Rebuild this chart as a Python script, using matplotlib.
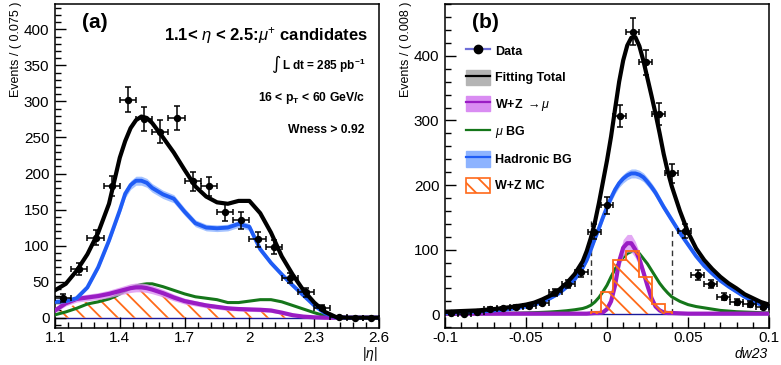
import numpy as np
import matplotlib
matplotlib.use("Agg")
import matplotlib.pyplot as plt
from matplotlib.patches import Patch
from matplotlib.lines import Line2D
from matplotlib.ticker import FixedLocator, MultipleLocator

plt.rcParams['font.family'] = ['Liberation Sans', 'DejaVu Sans']
plt.rcParams['mathtext.fontset'] = 'custom'
plt.rcParams['mathtext.rm'] = 'Liberation Sans'
plt.rcParams['mathtext.it'] = 'Liberation Sans:italic'
plt.rcParams['mathtext.bf'] = 'Liberation Sans:bold'
plt.rcParams['hatch.linewidth'] = 1.3

# ---- panel (a): |eta| distribution ----
eta_bins = np.array([1.1375, 1.2125, 1.2875, 1.3625, 1.4375, 1.5125, 1.5875, 1.6625,
                     1.7375, 1.8125, 1.8875, 1.9625, 2.0375, 2.1125, 2.1875, 2.2625,
                     2.3375, 2.4125, 2.4875, 2.5625])
eta_counts = np.array([27, 68, 111, 183, 302, 275, 258, 277, 189, 182, 146, 135,
                       109, 98, 55, 35, 14, 1, 0, 0])

eta_grid = np.array([1.10, 1.15, 1.20, 1.25, 1.30, 1.35, 1.375, 1.40, 1.425, 1.45,
                     1.475, 1.50, 1.525, 1.55, 1.60, 1.65, 1.70, 1.75, 1.80, 1.85,
                     1.90, 1.95, 2.00, 2.05, 2.10, 2.15, 2.20, 2.25, 2.30, 2.35,
                     2.40, 2.45, 2.50, 2.55, 2.60])
eta_total = np.array([38, 47, 65, 88, 118, 158, 190, 222, 245, 263,
                      274, 279, 277, 270, 250, 229, 205, 182, 168, 160,
                      158, 162, 162, 145, 118, 85, 60, 38, 21, 8,
                      1, 0, 0, 0, 0])
eta_hadronic = np.array([22, 23, 27, 42, 70, 107, 128, 149, 172, 184,
                         190, 190, 187, 180, 171, 165, 147, 131, 125, 124,
                         125, 130, 126, 95, 76, 60, 45, 31, 17, 6,
                         0.5, 0, 0, 0, 0])
eta_mubg = np.array([4, 8, 13, 19, 22, 26, 29, 33, 37, 41,
                     44, 46, 47, 47, 43, 38, 33, 29, 27, 25,
                     21, 21, 23, 25, 25, 22, 17, 12, 7, 2.5,
                     0.5, 0, 0, 0, 0])
eta_wz = np.array([10, 20, 26, 28, 30, 33, 35, 37, 39, 41,
                   42, 42, 41, 39, 34, 28, 23, 20, 17, 15,
                   13, 12, 11.5, 11, 10, 7, 3.5, 1.5, 0.5, 0,
                   0, 0, 0, 0, 0])
eta_wz_mc = np.array([5, 13, 19, 22, 25, 28, 30, 32, 34, 36,
                      37.5, 38, 37, 35, 30, 25, 20, 17, 14, 12,
                      10, 9, 9, 8, 7, 4, 2, 0.5, 0, 0,
                      0, 0, 0, 0, 0])

# ---- panel (b): dw23 distribution ----
dw_bins = np.array([-0.096, -0.088, -0.080, -0.072, -0.064, -0.056, -0.048, -0.040,
                    -0.032, -0.024, -0.016, -0.008, 0.000, 0.008, 0.016, 0.024,
                    0.032, 0.040, 0.048, 0.056, 0.064, 0.072, 0.080, 0.088, 0.096])
dw_counts = np.array([2, 1, 3, 8, 9, 11, 13, 18, 34, 47, 66, 128, 169, 307, 437,
                      390, 310, 218, 129, 61, 47, 27, 19, 16, 12])

dw_grid = np.array([-0.100, -0.090, -0.080, -0.070, -0.060, -0.050, -0.045, -0.040,
                    -0.035, -0.030, -0.025, -0.020, -0.015, -0.0125, -0.010, -0.0075,
                    -0.005, -0.0025, 0.000, 0.0025, 0.005, 0.0075, 0.010, 0.0125,
                    0.015, 0.0175, 0.020, 0.0225, 0.025, 0.0275, 0.030, 0.0325,
                    0.035, 0.0375, 0.040, 0.045, 0.050, 0.055, 0.060, 0.065,
                    0.070, 0.075, 0.080, 0.085, 0.090, 0.095, 0.100])
dw_total = np.array([4, 5, 6, 8, 11, 15, 18, 23,
                     29, 37, 48, 62, 82, 98, 118, 142,
                     172, 205, 238, 275, 318, 360, 393, 416,
                     428, 429, 415, 392, 365, 338, 310, 280,
                     248, 221, 198, 160, 127, 102, 84, 70,
                     58, 48, 40, 31, 25, 19, 15])
dw_hadronic = np.array([2, 3, 4, 6, 8, 12, 15, 19,
                        25, 32, 42, 54, 72, 84, 100, 117,
                        133, 150, 166, 180, 193, 203, 210, 215,
                        218, 218, 216, 212, 205, 197, 188, 177,
                        166, 156, 146, 126, 108, 90, 75, 63,
                        52, 43, 35, 27, 20, 15, 12])
dw_mubg = np.array([0.5, 0.6, 0.8, 1.1, 1.5, 2.1, 2.5, 3.0,
                    3.6, 4.4, 5.5, 7, 9, 11, 14, 19,
                    26, 35, 45, 58, 70, 80, 88, 94,
                    97, 98, 94, 86, 78, 68, 58, 48,
                    40, 33, 27, 20, 15, 12, 10, 8,
                    6, 5, 4, 3.5, 3, 2.5, 2])
dw_wz = np.array([1, 1, 1, 1, 1, 1, 1, 1,
                  1, 1, 1, 1, 1, 1, 1.5, 2,
                  2, 3, 8, 20, 45, 82, 103, 110,
                  110, 100, 85, 65, 44, 25, 12, 6,
                  3, 2, 2, 1.5, 1, 1, 1, 1,
                  1, 1, 1, 1, 1, 1, 1])
mc_edges = np.array([-0.01, -0.004, 0.004, 0.012, 0.020, 0.028, 0.036, 0.04])
mc_values = np.array([3, 34, 84, 98, 57, 16, 3])
cut_positions = [-0.01, 0.04]
cut_heights = [148, 135]

wz_rel_err = 0.11
had_rel_err = 0.025

c_blue = '#1f5cf5'
c_blue_band = '#8db3ff'
c_purple = '#9a1cc4'
c_purple_band = '#dc92f2'
c_green = '#15761a'
c_orange = '#ff6a1a'
c_navy = '#1a1a9a'

fig = plt.figure(figsize=(7.81, 3.65), dpi=100)
ax1 = fig.add_axes([55 / 781, 37 / 365, 324 / 781, 324.5 / 365])
ax2 = fig.add_axes([445 / 781, 37 / 365, 324 / 781, 324.5 / 365])


def draw_panel(ax, x, total, hadronic, mubg, wz, bins, counts, half_width):
    ax.axhline(0, color=c_navy, lw=1.0, zorder=1)
    ax.plot(x, mubg, color=c_green, lw=2.2, zorder=3)
    ax.fill_between(x, wz * (1 - wz_rel_err) - 1.5, wz * (1 + wz_rel_err) + 1.5,
                    color=c_purple_band, lw=0, alpha=0.8, zorder=3)
    ax.plot(x, wz, color=c_purple, lw=3.0, zorder=4)
    ax.fill_between(x, hadronic * (1 - had_rel_err) - 1.5, hadronic * (1 + had_rel_err) + 1.5,
                    color=c_blue_band, lw=0, alpha=0.8, zorder=4)
    ax.plot(x, hadronic, color=c_blue, lw=2.8, zorder=5)
    ax.plot(x, total, color='black', lw=3.0, zorder=6)
    ax.errorbar(bins, counts, yerr=np.sqrt(counts), xerr=half_width, fmt='o', color='black',
                ms=4.3, elinewidth=1.1, capsize=2.2, capthick=1.1, zorder=7)
    for s in ax.spines.values():
        s.set_linewidth(1.1)
    ax.tick_params(which='both', direction='in', labelsize=11, top=False, right=False)
    ax.tick_params(which='major', length=8, width=1.0)
    ax.tick_params(which='minor', length=4.5, width=1.0)
    ax.tick_params(axis='x', which='major', pad=2.5)
    ax.tick_params(axis='y', which='major', pad=4)


# panel (a)
ax1.fill_between(eta_grid, 0, eta_wz_mc, facecolor='none', edgecolor=c_orange,
                 hatch='\\\\', linewidth=0, zorder=2)
draw_panel(ax1, eta_grid, eta_total, eta_hadronic, eta_mubg, eta_wz,
           eta_bins, eta_counts, 0.0375)
ax1.set_xlim(1.1, 2.6)
ax1.set_ylim(-14.3, 435.8)
ax1.set_xticks([1.1, 1.4, 1.7, 2.0, 2.3, 2.6])
ax1.set_xticklabels(['1.1', '1.4', '1.7', '2', '2.3', '2.6'])
ax1.xaxis.set_minor_locator(FixedLocator(np.arange(1.1, 2.61, 0.06)))
ax1.set_yticks(np.arange(0, 401, 50))
ax1.yaxis.set_minor_locator(MultipleLocator(10))

# panel (b)
ax2.stairs(mc_values, mc_edges, fill=True, facecolor='none', edgecolor=c_orange,
           hatch='\\\\', linewidth=1.3, zorder=5.5)
ax2.vlines(cut_positions, 0, cut_heights, colors='#333333', linestyles=(0, (4, 3)),
           lw=1.0, zorder=2)
draw_panel(ax2, dw_grid, dw_total, dw_hadronic, dw_mubg, dw_wz,
           dw_bins, dw_counts, 0.004)
ax2.set_xlim(-0.1, 0.1)
ax2.set_ylim(-21.2, 481)
ax2.set_xticks([-0.1, -0.05, 0, 0.05, 0.1])
ax2.set_xticklabels(['-0.1', '-0.05', '0', '0.05', '0.1'])
ax2.xaxis.set_minor_locator(MultipleLocator(0.01))
ax2.set_yticks(np.arange(0, 401, 100))
ax2.yaxis.set_minor_locator(MultipleLocator(20))

# legend of panel (b)
handles = [
    Line2D([], [], color='#6f6fd8', lw=1.6, marker='o', mfc='black', mec='black', ms=6),
    (Patch(facecolor='#b4b4b4', edgecolor='#b4b4b4', hatch='....'),
     Line2D([], [], color='black', lw=1.6)),
    (Patch(facecolor='#d98cf2', edgecolor='#d98cf2'),
     Line2D([], [], color=c_purple, lw=1.6)),
    Line2D([], [], color=c_green, lw=1.6),
    (Patch(facecolor='#8db3ff', edgecolor='#8db3ff'),
     Line2D([], [], color=c_blue, lw=1.6)),
    Patch(facecolor='white', edgecolor=c_orange, hatch='\\\\', lw=1.2),
]
labels = ['Data', 'Fitting Total', r'W+Z $\rightarrow\mu$', r'$\mu$ BG',
          'Hadronic BG', 'W+Z MC']
ax2.legend(handles, labels, loc='upper left', bbox_to_anchor=(0.065, 0.877),
           frameon=False, borderpad=0, borderaxespad=0, handlelength=1.9,
           handleheight=1.5, handletextpad=0.4, labelspacing=0.88,
           prop={'weight': 'bold', 'size': 9})

# texts
W, H = 781, 365
fig.text(82 / W, 1 - 22 / H, '(a)', fontsize=15, fontweight='bold', va='center')
fig.text(472 / W, 1 - 22 / H, '(b)', fontsize=15, fontweight='bold', va='center')
fig.text(368 / W, 1 - 35 / H, r'1.1< $\eta$ < 2.5:$\mu^{+}$ candidates', fontsize=12,
         fontweight='bold', ha='right', va='center')
fig.text(276 / W, 1 - 64 / H, '\u222b', fontsize=13, family='DejaVu Sans',
         ha='center', va='center')
fig.text(365 / W, 1 - 66 / H, r'L dt = 285 pb$^{\mathbf{-1}}$', fontsize=8.5,
         fontweight='bold', ha='right', va='center')
fig.text(365 / W, 1 - 98 / H, r'16 < p$_{\mathbf{T}}$ < 60 GeV/c', fontsize=8.7,
         fontweight='bold', ha='right', va='center')
fig.text(364 / W, 1 - 130 / H, 'Wness > 0.92', fontsize=8.7, fontweight='bold',
         ha='right', va='center')
fig.text(370 / W, 1 - 354 / H, r'|$\eta$|', fontsize=10, ha='center', va='center')
fig.text(768 / W, 1 - 354 / H, 'dw23', fontsize=10, style='italic', ha='right', va='center')
fig.text(16 / W, 1 - 2 / H, 'Events / ( 0.075 )', fontsize=9, rotation=90,
         ha='center', va='top')
fig.text(406 / W, 1 - 2 / H, 'Events / ( 0.008 )', fontsize=9, rotation=90,
         ha='center', va='top')

fig.savefig('out.png', dpi=100)
